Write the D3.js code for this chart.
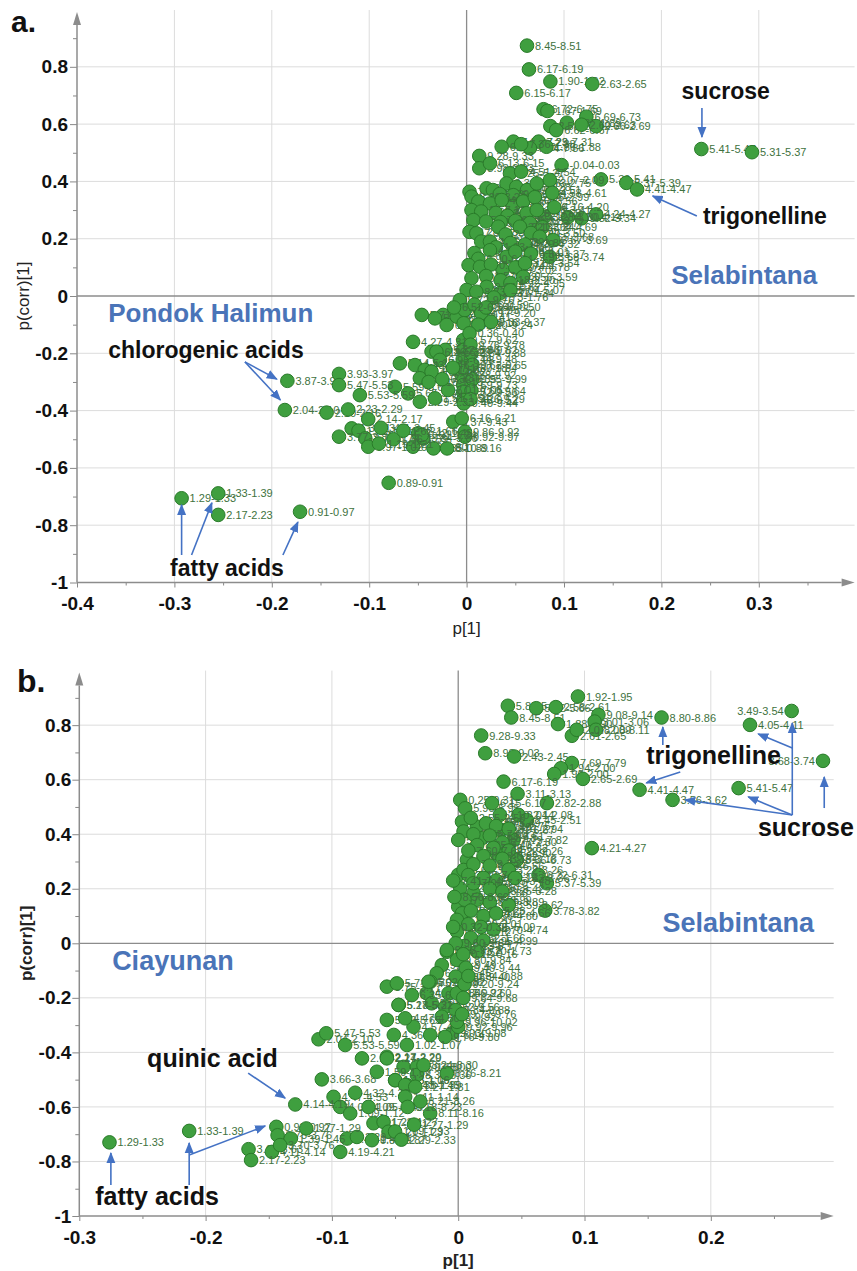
<!DOCTYPE html>
<html>
<head>
<meta charset="utf-8">
<script src="https://cdn.jsdelivr.net/npm/d3@7/dist/d3.min.js"></script>
<style>
  body { margin: 0; background: #fff; }
  svg text { font-family: "Liberation Sans", Arial, sans-serif; }
</style>
</head>
<body>
<svg id="chart" width="857" height="1271"></svg>
<script>
// S-plot loadings: [p[1], p(corr)[1], bucket label]
var pointsA = [
  [0.062, 0.874, "8.45-8.51"], [0.064, 0.791, "6.17-6.19"], [0.086, 0.749, "1.90-1.92"],
  [0.129, 0.740, "2.63-2.65"], [0.051, 0.709, "6.15-6.17"], [0.079, 0.652, "6.72-6.75"],
  [0.083, 0.646, "1.67-1.69"], [0.123, 0.626, "6.69-6.73"], [0.103, 0.605, "1.87-1.89"],
  [0.086, 0.593, "2.58-2.61"], [0.092, 0.579, "6.62-6.67"], [0.133, 0.593, "2.66-2.69"],
  [0.118, 0.598, "2.60-2.63"], [0.048, 0.539, "7.21-7.23"], [0.036, 0.521, "6.08-6.10"],
  [0.074, 0.539, "7.29-7.31"], [0.065, 0.516, "7.84-7.86"], [0.082, 0.521, "1.86-1.88"],
  [0.056, 0.530, "7.36-7.38"], [0.013, 0.489, "9.28-9.33"], [0.013, 0.446, "8.98-9.03"],
  [0.024, 0.463, "6.13-6.15"], [0.0975, 0.457, "-0.04-0.03"], [0.0445, 0.428, "5.25-5.27"],
  [0.056, 0.434, "4.51-4.54"], [0.138, 0.407, "5.39-5.41"], [0.164, 0.395, "5.37-5.39"],
  [0.175, 0.372, "4.41-4.47"], [0.118, 0.271, "3.32-3.34"], [0.133, 0.285, "4.24-4.27"],
  [0.104, 0.275, "4.10-4.14"], [0.080, 0.277, "3.28-3.30"], [0.0855, 0.137, "3.68-3.74"],
  [0.241, 0.513, "5.41-5.47"], [0.293, 0.502, "5.31-5.37"],
  [0.003, 0.364, "7.45-7.49"], [0.0205, 0.376, "2.51-2.55"], [0.027, 0.370, "3.05-3.09"],
  [0.041, 0.393, "2.34-2.36"], [0.051, 0.381, "3.26-3.28"], [0.062, 0.370, "2.45-2.51"],
  [0.072, 0.393, "2.73-2.75"], [0.0855, 0.405, "2.07-2.09"], [0.034, 0.356, "3.59-3.62"],
  [0.048, 0.352, "5.29-5.31"], [0.005, 0.347, "8.20-8.24"], [0.012, 0.330, "6.56-6.60"],
  [0.024, 0.323, "3.15-3.18"], [0.0475, 0.312, "1.94-1.96"], [0.036, 0.335, "4.03-4.05"],
  [0.058, 0.330, "3.54-3.56"], [0.070, 0.345, "2.95-2.99"], [0.088, 0.360, "4.58-4.61"],
  [0.005, 0.300, "7.10-7.12"], [0.015, 0.295, "4.05-4.08"], [0.030, 0.290, "2.26-2.28"],
  [0.042, 0.280, "3.18-3.21"], [0.0616, 0.289, "3.62-3.65"], [0.072, 0.300, "3.38-3.41"],
  [0.090, 0.310, "4.16-4.20"], [0.007, 0.265, "7.55-7.59"], [0.020, 0.260, "1.25-1.27"],
  [0.035, 0.258, "3.44-3.47"], [0.050, 0.262, "3.80-3.83"], [0.065, 0.255, "3.74-3.77"],
  [0.078, 0.240, "4.64-4.69"], [0.003, 0.224, "8.28-8.32"], [0.010, 0.219, "7.92-7.96"],
  [0.0325, 0.242, "3.09-3.13"], [0.0547, 0.242, "3.21-3.24"], [0.040, 0.215, "2.76-2.80"],
  [0.066, 0.220, "3.47-3.50"], [0.075, 0.207, "3.65-3.68"], [0.089, 0.195, "3.67-3.69"],
  [0.015, 0.190, "6.43-6.47"], [0.024, 0.190, "2.36-2.39"], [0.045, 0.185, "3.86-3.88"],
  [0.060, 0.180, "4.29-4.32"], [0.030, 0.170, "1.03-1.06"], [0.008, 0.150, "7.64-7.67"],
  [0.024, 0.160, "4.85-4.88"], [0.041, 0.137, "2.89-2.92"], [0.050, 0.155, "3.98-4.01"],
  [0.066, 0.148, "3.34-3.37"], [0.012, 0.130, "6.90-6.94"], [0.002, 0.108, "8.62-8.66"],
  [0.0137, 0.102, "1.16-1.19"], [0.037, 0.091, "2.99-3.02"], [0.025, 0.110, "0.71-0.74"],
  [0.050, 0.100, "4.74-4.78"], [0.060, 0.115, "3.50-3.54"], [0.005, 0.062, "9.05-9.09"],
  [0.020, 0.070, "1.57-1.60"], [0.058, 0.067, "3.56-3.59"], [0.035, 0.055, "2.18-2.20"],
  [0.045, 0.045, "4.92-4.95"], [0.000, 0.021, "9.64-9.68"], [0.0205, 0.032, "0.64-0.67"],
  [0.034, 0.009, "1.31-1.34"], [0.010, 0.015, "8.73-8.77"], [0.045, 0.020, "5.04-5.07"],
  [0.028, -0.005, "1.73-1.76"],
  [-0.024, -0.066, "4.36-4.39"], [-0.046, -0.066, "5.71-5.74"], [-0.0325, -0.078, "5.76-5.80"],
  [-0.0205, -0.101, "6.00-6.03"], [-0.010, -0.072, "6.38-6.41"], [-0.007, -0.014, "9.72-9.76"],
  [-0.002, -0.049, "8.92-8.95"], [-0.003, -0.095, "9.12-9.16"], [0.008, -0.030, "0.56-0.59"],
  [0.015, -0.060, "9.17-9.20"], [0.012, -0.100, "9.20-9.24"], [0.020, -0.040, "0.46-0.50"],
  [0.025, -0.090, "9.33-9.37"], [-0.013, -0.040, "6.52-6.55"],
  [-0.0035, -0.154, "9.57-9.62"], [-0.0035, -0.188, "9.78-9.82"], [-0.004, -0.220, "9.44-9.48"],
  [-0.005, -0.276, "9.88-9.92"], [-0.0035, -0.311, "9.69-9.73"], [-0.0035, -0.334, "9.52-9.56"],
  [-0.0035, -0.363, "9.48-9.52"], [-0.003, -0.375, "9.40-9.44"], [-0.004, -0.250, "9.80-9.84"],
  [0.003, -0.130, "0.36-0.40"], [0.004, -0.170, "9.76-9.78"], [0.005, -0.200, "9.84-9.88"],
  [0.006, -0.240, "9.62-9.65"], [0.006, -0.290, "9.95-9.99"], [0.005, -0.330, "9.60-9.64"],
  [0.004, -0.360, "9.26-9.29"],
  [-0.055, -0.160, "4.27-4.31"], [-0.036, -0.194, "5.19-5.22"], [-0.022, -0.188, "5.82-5.86"],
  [-0.031, -0.194, "6.26-6.29"], [-0.0274, -0.223, "6.95-6.98"], [-0.0685, -0.235, "5.14-5.17"],
  [-0.053, -0.241, "4.43-4.46"], [-0.043, -0.258, "1.47-1.50"], [-0.048, -0.287, "2.31-2.33"],
  [-0.0736, -0.317, "5.59-5.65"], [-0.060, -0.340, "5.65-5.69"], [-0.048, -0.369, "2.29-2.33"],
  [-0.0325, -0.357, "1.51-1.54"], [-0.019, -0.328, "7.01-7.05"], [-0.036, -0.264, "4.89-4.92"],
  [-0.039, -0.300, "1.10-1.13"], [-0.014, -0.250, "7.15-7.18"], [-0.025, -0.290, "6.32-6.35"],
  [-0.0137, -0.439, "9.37-9.43"], [-0.005, -0.427, "6.16-6.21"], [-0.0017, -0.474, "9.86-9.92"],
  [-0.0017, -0.491, "9.92-9.97"], [-0.0497, -0.479, "1.42-1.45"], [-0.0445, -0.497, "3.84-3.86"],
  [-0.055, -0.526, "0.78-0.80"], [-0.034, -0.532, "0.85-0.89"], [-0.046, -0.485, "1.21-1.24"],
  [-0.020, -0.532, "8.10-8.16"],
  [-0.184, -0.296, "3.87-3.91"], [-0.131, -0.272, "3.93-3.97"], [-0.131, -0.311, "5.47-5.53"],
  [-0.1866, -0.398, "2.04-2.10"], [-0.1437, -0.407, "2.10-2.16"], [-0.1216, -0.396, "2.23-2.29"],
  [-0.1096, -0.346, "5.53-5.59"], [-0.101, -0.430, "2.14-2.17"], [-0.118, -0.462, "1.39-1.45"],
  [-0.111, -0.470, "1.45-1.51"], [-0.104, -0.497, "3.71-3.74"], [-0.101, -0.526, "0.97-1.02"],
  [-0.131, -0.491, "3.77-3.80"], [-0.088, -0.460, "3.41-3.45"], [-0.075, -0.500, "1.56-1.59"],
  [-0.065, -0.470, "1.62-1.66"], [-0.090, -0.515, "1.19-1.21"], [-0.080, -0.652, "0.89-0.91"],
  [-0.2926, -0.706, "1.29-1.33"], [-0.255, -0.689, "1.33-1.39"], [-0.255, -0.764, "2.17-2.23"],
  [-0.171, -0.753, "0.91-0.97"]
];

var pointsB = [
  [0.0948, 0.905, "1.92-1.95"], [0.0393, 0.871, "5.87-5.90"], [0.0618, 0.862, "5.62-5.66"],
  [0.0773, 0.866, "2.58-2.61"], [0.042, 0.828, "8.45-8.51"], [0.079, 0.804, "1.88-1.90"],
  [0.111, 0.838, "9.08-9.14"], [0.108, 0.813, "3.01-3.06"], [0.109, 0.783, "8.08-8.11"],
  [0.090, 0.761, "2.61-2.65"], [0.0938, 0.783, "2.07-2.09"], [0.161, 0.828, "8.80-8.86"],
  [0.264, 0.852, "3.49-3.54"], [0.231, 0.801, "4.05-4.11"], [0.2888, 0.669, "3.68-3.74"],
  [0.222, 0.569, "5.41-5.47"], [0.1436, 0.563, "4.41-4.47"], [0.1697, 0.526, "3.56-3.62"],
  [0.0182, 0.762, "9.28-9.33"], [0.0214, 0.697, "8.98-9.03"], [0.0443, 0.685, "2.43-2.45"],
  [0.090, 0.661, "7.69-7.79"], [0.0813, 0.642, "1.94-2.00"], [0.076, 0.621, "1.96-2.00"],
  [0.0987, 0.603, "2.65-2.69"], [0.0359, 0.593, "6.17-6.19"], [0.047, 0.548, "3.11-3.13"],
  [0.0702, 0.514, "2.82-2.88"], [0.0016, 0.526, "0.25-0.31"], [0.0055, 0.495, "5.90-5.95"],
  [0.0267, 0.514, "6.15-6.17"], [0.0477, 0.471, "2.04-2.08"], [0.0544, 0.452, "2.45-2.51"],
  [0.003, 0.446, "0.19-0.25"], [0.0042, 0.410, "9.24-9.28"], [0.0148, 0.428, "8.46-8.49"],
  [0.0333, 0.416, "6.61-6.67"], [0.0438, 0.379, "7.79-7.82"], [0.000, 0.379, "5.95-5.99"],
  [0.0188, 0.385, "8.14-8.18"], [0.1058, 0.349, "4.21-4.27"], [0.0069, 0.306, "1.98-2.01"],
  [0.0306, 0.330, "1.88-1.90"], [0.0465, 0.306, "6.66-6.73"], [0.000, 0.251, "7.37-7.45"],
  [0.0042, 0.269, "3.65-3.67"], [0.0016, 0.202, "7.27-7.35"], [0.0636, 0.251, "6.22-6.31"],
  [0.0702, 0.220, "5.37-5.39"], [0.0121, 0.184, "7.84-7.86"], [0.000, 0.134, "2.92-2.97"],
  [0.003, 0.110, "2.39-2.41"], [0.0689, 0.120, "3.78-3.82"], [0.033, 0.471, "2.10-2.14"],
  [-0.001, 0.086, "1.15-1.20"], [-0.001, 0.043, "0.05-0.12"], [-0.009, -0.031, "6.48-6.52"],
  [0.010, 0.460, "2.55-2.58"], [0.022, 0.440, "6.45-6.49"], [0.030, 0.430, "2.71-2.75"],
  [0.040, 0.420, "2.91-2.94"], [0.012, 0.400, "7.55-7.60"], [0.025, 0.395, "6.59-6.61"],
  [0.035, 0.370, "2.77-2.80"], [0.015, 0.360, "8.35-8.40"], [0.028, 0.350, "6.79-6.82"],
  [0.040, 0.340, "2.22-2.26"], [0.008, 0.340, "7.60-7.64"], [0.020, 0.320, "6.88-6.92"],
  [0.035, 0.310, "3.15-3.18"], [0.012, 0.290, "7.18-7.22"], [0.025, 0.285, "6.53-6.56"],
  [0.040, 0.270, "3.22-3.26"], [0.008, 0.250, "7.49-7.53"], [0.020, 0.240, "4.10-4.14"],
  [0.030, 0.230, "3.45-3.48"], [0.045, 0.240, "3.33-3.36"], [0.012, 0.220, "7.06-7.10"],
  [0.025, 0.200, "3.39-3.42"], [0.035, 0.190, "3.25-3.28"], [0.015, 0.160, "6.95-6.99"],
  [0.005, 0.160, "7.92-7.95"], [0.025, 0.150, "3.86-3.89"], [0.040, 0.140, "3.59-3.62"],
  [0.010, 0.120, "5.22-5.25"], [0.020, 0.100, "4.56-4.60"], [0.030, 0.110, "4.62-4.66"],
  [0.008, 0.070, "2.99-3.01"], [0.018, 0.060, "5.05-5.09"], [0.028, 0.050, "4.70-4.74"],
  [0.010, 0.020, "1.62-1.66"], [0.020, 0.010, "4.95-4.99"], [0.005, -0.010, "5.13-5.17"],
  [0.015, -0.030, "1.70-1.73"], [-0.004, 0.230, "7.41-7.45"], [-0.003, 0.170, "8.56-8.60"],
  [-0.004, 0.060, "0.32-0.36"], [-0.002, 0.000, "9.60-9.64"],
  [-0.009, -0.025, "9.68-9.72"], [-0.013, -0.080, "9.44-9.49"], [-0.017, -0.110, "6.41-6.45"],
  [-0.022, -0.141, "5.78-5.82"], [-0.025, -0.183, "4.80-4.84"], [-0.021, -0.220, "5.98-6.02"],
  [-0.0103, -0.233, "9.52-9.56"], [-0.013, -0.269, "9.88-9.92"], [-0.005, -0.330, "9.03-9.08"],
  [-0.0077, -0.183, "9.17-9.22"], [-0.0565, -0.159, "3.75-3.77"], [-0.0486, -0.147, "5.71-5.75"],
  [-0.0367, -0.190, "6.35-6.39"], [-0.047, -0.226, "5.18-5.22"], [-0.0565, -0.281, "5.62-5.65"],
  [-0.051, -0.336, "4.36-4.40"], [-0.0565, -0.416, "2.17-2.20"], [-0.0433, -0.453, "1.55-1.58"],
  [-0.0327, -0.453, "7.93-8.00"], [-0.050, -0.502, "1.05-1.09"], [-0.0406, -0.520, "1.36-1.39"],
  [-0.0327, -0.483, "8.30-8.36"], [-0.0354, -0.306, "4.57-4.60"], [-0.0222, -0.336, "6.10-6.14"],
  [-0.0103, -0.343, "9.76-9.80"], [-0.0406, -0.373, "1.02-1.07"], [0.000, -0.306, "9.92-9.96"],
  [-0.001, -0.061, "9.80-9.84"], [-0.002, -0.122, "9.36-9.40"], [-0.001, -0.183, "9.56-9.60"],
  [-0.002, -0.245, "9.84-9.88"], [-0.001, -0.288, "9.96-10.02"], [-0.009, -0.477, "8.16-8.21"],
  [-0.0222, -0.624, "8.11-8.16"], [-0.0235, -0.141, "6.02-6.06"], [-0.042, -0.275, "4.47-4.50"],
  [0.004, -0.040, "0.12-0.16"], [0.006, -0.090, "9.40-9.44"], [0.005, -0.150, "9.20-9.24"],
  [0.004, -0.200, "9.64-9.68"], [0.003, -0.260, "9.72-9.76"], [0.008, -0.120, "0.84-0.88"],
  [-0.108, -0.499, "3.66-3.68"], [-0.0762, -0.422, "2.14-2.17"], [-0.0644, -0.471, "1.59-1.62"],
  [-0.0565, -0.422, "2.24-2.29"], [-0.0499, -0.502, "1.13-1.16"], [-0.042, -0.520, "1.43-1.45"],
  [-0.1106, -0.352, "2.04-2.10"], [-0.1045, -0.330, "5.47-5.53"], [-0.0895, -0.373, "5.53-5.59"],
  [-0.0473, -0.226, "5.27-5.31"], [-0.0275, -0.447, "8.24-8.30"], [-0.034, -0.526, "1.27-1.31"],
  [-0.0987, -0.563, "4.47-4.53"], [-0.0816, -0.548, "4.32-4.33"], [-0.0934, -0.600, "4.05-4.09"],
  [-0.0855, -0.624, "1.09-1.12"], [-0.071, -0.600, "1.05-1.49"], [-0.0671, -0.660, "1.17-1.21"],
  [-0.0591, -0.655, "1.23-1.27"], [-0.0552, -0.691, "1.21-1.23"], [-0.042, -0.563, "1.11-1.14"],
  [-0.0934, -0.765, "4.19-4.21"], [-0.0881, -0.716, "1.45-1.49"], [-0.0802, -0.710, "2.29-2.31"],
  [-0.0683, -0.722, "0.83-0.87"], [-0.050, -0.690, "1.89-1.93"], [-0.045, -0.720, "2.29-2.33"],
  [-0.035, -0.665, "1.27-1.29"], [-0.040, -0.600, "8.18-8.23"], [-0.030, -0.580, "8.21-8.26"],
  [-0.129, -0.591, "4.14-4.19"], [-0.166, -0.755, "3.61-3.63"], [-0.1475, -0.765, "4.11-4.14"],
  [-0.144, -0.673, "0.93-0.97"], [-0.143, -0.704, "3.75-3.76"], [-0.1325, -0.716, "1.39-1.45"],
  [-0.141, -0.740, "3.70-3.76"], [-0.1203, -0.679, "1.27-1.29"], [-0.164, -0.795, "2.17-2.23"],
  [-0.213, -0.688, "1.33-1.39"], [-0.2761, -0.730, "1.29-1.33"]
];

var xTicksA = [-0.4, -0.3, -0.2, -0.1, 0, 0.1, 0.2, 0.3];
var xMinorA = [-0.35, -0.25, -0.15, -0.05, 0.05, 0.15, 0.25, 0.35];
var xTicksB = [-0.3, -0.2, -0.1, 0, 0.1, 0.2];
var xMinorB = [-0.25, -0.15, -0.05, 0.05, 0.15, 0.25];
var yTicks = [-1, -0.8, -0.6, -0.4, -0.2, 0, 0.2, 0.4, 0.6, 0.8];
var yMinor = [-0.9, -0.7, -0.5, -0.3, -0.1, 0.1, 0.3, 0.5, 0.7, 0.9];

var svg = d3.select("#chart");
var defs = svg.append("defs");
defs.append("marker").attr("id", "ah").attr("viewBox", "0 0 10 10")
  .attr("refX", 9).attr("refY", 5).attr("markerWidth", 7).attr("markerHeight", 7)
  .attr("orient", "auto-start-reverse")
  .append("path").attr("d", "M0,1 L10,5 L0,9 Z").attr("fill", "#4472c4");

var fmt = function(d){ return String(d); };

function drawPanel(cfg) {
  var x = d3.scaleLinear().domain(cfg.xDom).range(cfg.xRange);
  var y = d3.scaleLinear().domain([-1, cfg.yTop]).range(cfg.yRange);
  var g = svg.append("g");
  var x0 = cfg.xRange[0], x1 = cfg.xRange[1], y0 = cfg.yRange[0], y1 = cfg.yRange[1];

  // grid
  g.append("g").selectAll("line").data(cfg.xTicks.filter(function(d){ return d !== 0 && d !== cfg.xDom[0]; }))
    .join("line").attr("x1", x).attr("x2", x).attr("y1", y0).attr("y2", y1 - 15)
    .attr("stroke", "#dcdcdc").attr("stroke-width", 1);
  g.append("g").selectAll("line").data(yTicks.filter(function(d){ return d !== 0 && d !== -1; }))
    .join("line").attr("x1", x0).attr("x2", x1 + 13).attr("y1", y).attr("y2", y)
    .attr("stroke", "#dcdcdc").attr("stroke-width", 1);

  // zero lines
  g.append("line").attr("x1", x0).attr("x2", x1 + 13).attr("y1", y(0)).attr("y2", y(0))
    .attr("stroke", "#8c8c8c").attr("stroke-width", 1.3);
  g.append("line").attr("x1", x(0)).attr("x2", x(0)).attr("y1", y0).attr("y2", y1 - 15)
    .attr("stroke", "#8c8c8c").attr("stroke-width", 1.3);

  // axes
  var ax = g.append("g").attr("transform", "translate(0," + y0 + ")")
    .call(d3.axisBottom(x).tickValues(cfg.xTicks).tickSize(5).tickPadding(cfg.xPad).tickFormat(fmt));
  ax.select(".domain").remove();
  ax.selectAll("line").attr("stroke", "#888");
  ax.selectAll("text").attr("font-size", 19).attr("font-weight", "bold").attr("fill", "#111");
  var axm = g.append("g").attr("transform", "translate(0," + y0 + ")")
    .call(d3.axisBottom(x).tickValues(cfg.xMinor).tickSize(3).tickFormat(""));
  axm.select(".domain").remove();
  axm.selectAll("line").attr("stroke", "#888");

  var ay = g.append("g").attr("transform", "translate(" + x0 + ",0)")
    .call(d3.axisLeft(y).tickValues(yTicks).tickSize(7).tickPadding(cfg.yPad).tickFormat(fmt));
  ay.select(".domain").remove();
  ay.selectAll("line").attr("stroke", "#888");
  ay.selectAll("text").attr("font-size", 19).attr("font-weight", "bold").attr("fill", "#111");
  var aym = g.append("g").attr("transform", "translate(" + x0 + ",0)")
    .call(d3.axisLeft(y).tickValues(yMinor).tickSize(4).tickFormat(""));
  aym.select(".domain").remove();
  aym.selectAll("line").attr("stroke", "#888");

  // axis lines with arrows
  g.append("line").attr("x1", x0).attr("x2", x1).attr("y1", y0).attr("y2", y0)
    .attr("stroke", "#8c8c8c").attr("stroke-width", 1.5);
  g.append("path").attr("d", "M" + x1 + "," + (y0 - 4) + " L" + (x1 + 13) + "," + y0 + " L" + x1 + "," + (y0 + 4) + " Z")
    .attr("fill", "#8c8c8c");
  g.append("line").attr("x1", x0).attr("x2", x0).attr("y1", y0).attr("y2", y1)
    .attr("stroke", "#8c8c8c").attr("stroke-width", 1.5);
  g.append("path").attr("d", "M" + (x0 - 4) + "," + y1 + " L" + x0 + "," + (y1 - 13) + " L" + (x0 + 4) + "," + y1 + " Z")
    .attr("fill", "#8c8c8c");

  // points with labels (labels flip left near the right edge)
  var flip = function(d){ return x(d[0]) + 62 > x1; };
  var pts = g.append("g").selectAll("g").data(cfg.points).join("g");
  pts.append("circle").attr("cx", function(d){ return x(d[0]); }).attr("cy", function(d){ return y(d[1]); })
    .attr("r", 6.8).attr("fill", "#3f9f3f").attr("stroke", "#2a7b2a").attr("stroke-width", 1);
  pts.append("text")
    .attr("x", function(d){ return flip(d) ? x(d[0]) - 8 : x(d[0]) + 8; })
    .attr("y", function(d){ return y(d[1]) + 4; })
    .attr("text-anchor", function(d){ return flip(d) ? "end" : "start"; })
    .attr("font-size", cfg.lblSize).attr("font-family", cfg.lblFont).attr("fill", "#3e723e")
    .text(function(d){ return d[2]; });

  // titles
  g.append("text").attr("transform", "translate(" + cfg.yTitleX + "," + y(0) + ") rotate(-90)")
    .attr("text-anchor", "middle").attr("dominant-baseline", "middle")
    .attr("font-size", 17).attr("font-weight", cfg.titleWeight).attr("fill", "#222").text("p(corr)[1]");
  g.append("text").attr("x", x(0)).attr("y", cfg.xTitleY).attr("text-anchor", "middle")
    .attr("font-size", 17).attr("font-weight", cfg.titleWeight).attr("fill", "#222").text("p[1]");
  g.append("text").attr("x", cfg.tagX).attr("y", cfg.tagY).attr("font-size", cfg.tagSize)
    .attr("font-weight", "bold").attr("fill", "#111").text(cfg.tag);

  return { g: g, x: x, y: y };
}

function note(p, txt, vx, vy, opts) {
  p.g.append("text").attr("x", p.x(vx)).attr("y", p.y(vy))
    .attr("text-anchor", opts.anchor || "start").attr("dominant-baseline", "middle")
    .attr("font-family", opts.font).attr("font-size", opts.size).attr("font-weight", "bold")
    .attr("fill", opts.color || "#111").text(txt);
}
function arrow(p, fx, fy, tx, ty, head) {
  var l = p.g.append("line").attr("x1", p.x(fx)).attr("y1", p.y(fy)).attr("x2", p.x(tx)).attr("y2", p.y(ty))
    .attr("stroke", "#4472c4").attr("stroke-width", 1.6);
  if (head !== false) l.attr("marker-end", "url(#ah)");
}

var A = drawPanel({
  points: pointsA, xDom: [-0.4, 0.385], xRange: [77, 841.6], yTop: 0.946, yRange: [582.5, 25],
  xTicks: xTicksA, xMinor: xMinorA, xPad: 9, yPad: 2, yTitleX: 25, xTitleY: 634, titleWeight: "normal",
  lblSize: 11, lblFont: "Liberation Sans, Arial, sans-serif", tag: "a.", tagX: 11, tagY: 32, tagSize: 30
});
var fa = "Lato, 'Open Sans', sans-serif";
note(A, "sucrose", 0.266, 0.709, { font: fa, size: 23, anchor: "middle" });
arrow(A, 0.2416, 0.656, 0.2416, 0.555);
note(A, "trigonelline", 0.2426, 0.272, { font: fa, size: 23 });
arrow(A, 0.2364, 0.279, 0.191, 0.349);
note(A, "Selabintana", 0.285, 0.066, { font: fa, size: 26, anchor: "middle", color: "#4a74b8" });
note(A, "Pondok Halimun", -0.368, -0.066, { font: fa, size: 26, color: "#4a74b8" });
note(A, "chlorogenic acids", -0.368, -0.194, { font: fa, size: 23 });
arrow(A, -0.2276, -0.230, -0.1948, -0.290);
arrow(A, -0.2276, -0.230, -0.1912, -0.363);
note(A, "fatty acids", -0.246, -0.956, { font: fa, size: 23, anchor: "middle" });
arrow(A, -0.2926, -0.904, -0.2926, -0.729);
arrow(A, -0.2824, -0.904, -0.2615, -0.722);
arrow(A, -0.1886, -0.904, -0.1732, -0.789);

var B = drawPanel({
  points: pointsB, xDom: [-0.3, 0.287], xRange: [79.3, 820.7], yTop: 0.945, yRange: [1216, 685.6],
  xTicks: xTicksB, xMinor: xMinorB, xPad: 10, yPad: 1, yTitleX: 28, xTitleY: 1266, titleWeight: "bold",
  lblSize: 11, lblFont: "'Noto Sans', 'Open Sans', sans-serif", tag: "b.", tagX: 17, tagY: 692, tagSize: 32
});
var fb = "'Liberation Sans', Arial, sans-serif";
note(B, "trigonelline", 0.1489, 0.681, { font: fb, size: 25 });
arrow(B, 0.162, 0.727, 0.162, 0.793);
arrow(B, 0.1758, 0.628, 0.1489, 0.588);
note(B, "sucrose", 0.2373, 0.419, { font: fb, size: 25 });
arrow(B, 0.2645, 0.4705, 0.1797, 0.526);
arrow(B, 0.2645, 0.4705, 0.2296, 0.537);
arrow(B, 0.2645, 0.4705, 0.2645, 0.808);
arrow(B, 0.2645, 0.716, 0.2375, 0.768);
arrow(B, 0.2898, 0.496, 0.2898, 0.610);
note(B, "Selabintana", 0.2217, 0.067, { font: fb, size: 27, anchor: "middle", color: "#4a74b8" });
note(B, "Ciayunan", -0.274, -0.072, { font: fb, size: 27, color: "#4a74b8" });
note(B, "quinic acid", -0.2463, -0.428, { font: fb, size: 25 });
arrow(B, -0.1663, -0.476, -0.137, -0.568);
note(B, "fatty acids", -0.2874, -0.934, { font: fb, size: 25 });
arrow(B, -0.275, -0.886, -0.275, -0.769);
arrow(B, -0.213, -0.886, -0.213, -0.732);
arrow(B, -0.213, -0.776, -0.1528, -0.670);
</script>
</body>
</html>
